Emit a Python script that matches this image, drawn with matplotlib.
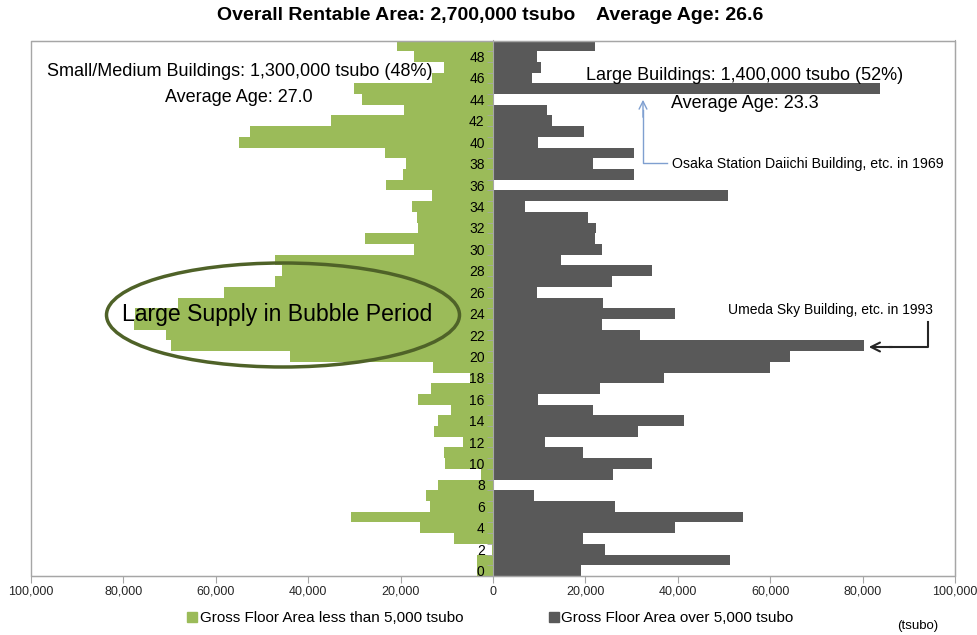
import matplotlib
matplotlib.use("Agg")
import matplotlib.pyplot as plt
from matplotlib.patches import Ellipse, Rectangle
from matplotlib.lines import Line2D
from matplotlib.ticker import FuncFormatter

plt.rcParams['font.family'] = ['Liberation Sans', 'DejaVu Sans']
NARROW = ['Liberation Sans Narrow', 'Liberation Sans', 'DejaVu Sans']

# building age in years (0 .. 49)
ages = list(range(50))

# gross floor area less than 5,000 tsubo (thousand tsubo)
small_k = [3.5, 3.4, 0.3, 8.4, 15.7, 30.7, 13.6, 14.4, 11.8, 2.7,
           10.3, 10.5, 6.5, 12.8, 11.8, 9.0, 16.3, 13.4, 5.0, 12.9,
           43.9, 69.7, 70.8, 77.8, 77.4, 68.1, 58.3, 47.1, 45.7, 47.1,
           17.2, 27.7, 16.3, 16.5, 17.6, 13.1, 23.2, 19.4, 18.8, 23.4,
           55.0, 52.7, 35.1, 19.2, 28.3, 30.1, 13.1, 10.5, 17.2, 20.7]

# gross floor area over 5,000 tsubo (thousand tsubo)
large_k = [19.1, 51.2, 24.2, 19.4, 39.4, 54.1, 26.3, 8.8, 0.0, 26.0,
           34.4, 19.4, 11.3, 31.3, 41.4, 21.7, 9.7, 23.2, 37.1, 59.9,
           64.2, 80.3, 31.9, 23.7, 39.4, 23.8, 9.5, 25.8, 34.4, 14.7,
           23.5, 22.1, 22.2, 20.6, 7.0, 50.8, 0.0, 30.5, 21.7, 30.5,
           9.8, 19.6, 12.8, 11.7, 0.0, 83.7, 8.4, 10.3, 9.5, 22.1]

small = [-v * 1000 for v in small_k]
large = [v * 1000 for v in large_k]

xticks = [-100000, -80000, -60000, -40000, -20000, 0, 20000, 40000, 60000, 80000, 100000]
yticks = list(range(0, 50, 2))

GREEN = '#9bbb59'
DARK = '#595959'
FRAME = '#a6a6a6'

W, H = 978, 635
fig = plt.figure(figsize=(W / 100, H / 100), dpi=100)


def fx(x):
    return x / W


def fy(y):
    return 1 - y / H


ax = fig.add_axes([fx(31), fy(576), fx(955) - fx(31), fy(40.5) - fy(576)])
ax.barh(ages, small, height=1.0, color=GREEN, linewidth=0)
ax.barh(ages, large, height=1.0, color=DARK, linewidth=0)

ax.set_xlim(-100000, 100000)
ax.set_ylim(-0.5, 49.5)

ax.set_xticks(xticks)
ax.xaxis.set_major_formatter(FuncFormatter(lambda v, p: '{:,.0f}'.format(abs(v))))
ax.tick_params(axis='x', direction='out', length=5, color=FRAME, pad=2, labelsize=9, labelcolor='#262626')

ax.set_yticks(yticks)
ax.set_yticklabels([str(k) for k in yticks], fontweight='bold', family=NARROW,
                   fontsize=10, color='#404040')
ax.set_yticks([k + 0.5 for k in range(49)], minor=True)
ax.tick_params(axis='y', which='major', length=0, pad=6)
ax.tick_params(axis='y', which='minor', length=4, color=FRAME, direction='out')

for s in ['top', 'right', 'bottom']:
    ax.spines[s].set_color(FRAME)
ax.spines['left'].set_position(('data', 0))
ax.spines['left'].set_color(FRAME)
ax.add_patch(Rectangle((0, 0), 1, 1, transform=ax.transAxes, fill=False,
                       edgecolor=FRAME, linewidth=1, clip_on=False))

# title
fig.text(fx(490), fy(16), 'Overall Rentable Area: 2,700,000 tsubo    Average Age: 26.6',
         ha='center', va='center', fontsize=14, fontweight='bold', family=NARROW)

# side notes
fig.text(fx(240), fy(71), 'Small/Medium Buildings: 1,300,000 tsubo (48%)',
         ha='center', va='center', fontsize=13)
fig.text(fx(239), fy(97), 'Average Age: 27.0', ha='center', va='center', fontsize=13)
fig.text(fx(745), fy(75), 'Large Buildings: 1,400,000 tsubo (52%)',
         ha='center', va='center', fontsize=13)
fig.text(fx(745), fy(103), 'Average Age: 23.3', ha='center', va='center', fontsize=13)

# Osaka Station note
OSAKA = '#7f9fd0'
fig.text(fx(672), fy(164), 'Osaka Station Daiichi Building, etc. in 1969',
         ha='left', va='center', fontsize=10.2)
fig.add_artist(Line2D([fx(667), fx(643), fx(643)], [fy(163), fy(163), fy(110)], color=OSAKA, lw=1))
ax.annotate('', xy=(fx(643), fy(97)), xytext=(fx(643), fy(120)), xycoords='figure fraction',
            textcoords='figure fraction',
            arrowprops=dict(arrowstyle='->', color=OSAKA, lw=1, mutation_scale=14))

# Umeda Sky note
fig.text(fx(830), fy(310), 'Umeda Sky Building, etc. in 1993',
         ha='center', va='center', fontsize=10)
fig.add_artist(Line2D([fx(928), fx(928), fx(890)], [fy(322), fy(347), fy(347)], color='#262626', lw=1.5))
ax.annotate('', xy=(fx(866), fy(347)), xytext=(fx(895), fy(347)), xycoords='figure fraction',
            textcoords='figure fraction',
            arrowprops=dict(arrowstyle='->', color='#262626', lw=1.5, mutation_scale=16))

# bubble period highlight
fig.add_artist(Ellipse((fx(283), fy(315)), fx(353), 104 / H, transform=fig.transFigure,
                       fill=False, edgecolor='#4f6228', linewidth=2.5))
fig.text(fx(277), fy(315), 'Large Supply in Bubble Period', ha='center', va='center', fontsize=16.6)

# legend
handles = [Line2D([], [], marker='s', color=GREEN, linestyle='none', markersize=7),
           Line2D([], [], marker='s', color=DARK, linestyle='none', markersize=7)]
fig.legend(handles, ['Gross Floor Area less than 5,000 tsubo', 'Gross Floor Area over 5,000 tsubo'],
           loc='center', bbox_to_anchor=(fx(490), fy(618)), ncol=2, frameon=False,
           handletextpad=0.1, columnspacing=5.5, handlelength=0.8,
           prop={'family': NARROW, 'size': 11})

fig.text(fx(918), fy(626), '(tsubo)', ha='center', va='center', fontsize=9.5, family=NARROW)

fig.savefig('out.png', dpi=100)
